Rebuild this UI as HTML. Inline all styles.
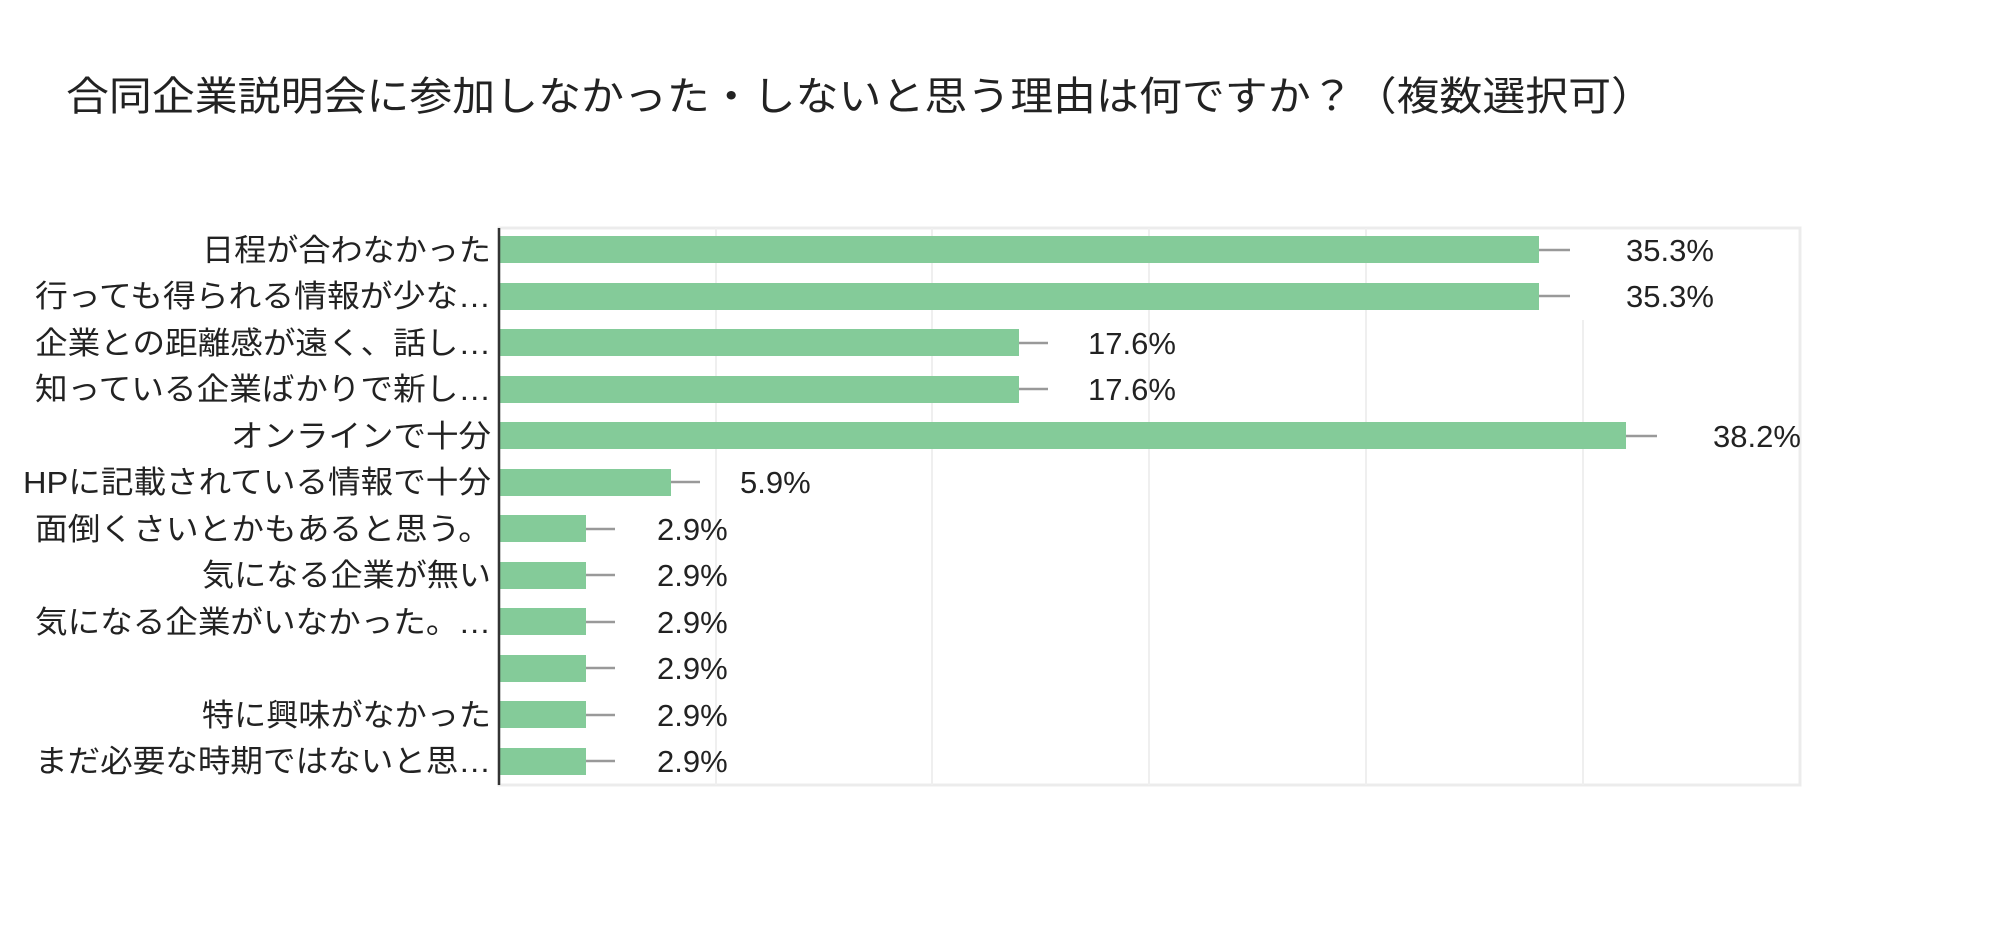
<!DOCTYPE html>
<html><head><meta charset="utf-8"><style>
html,body{margin:0;padding:0;background:#fff;}
svg{display:block;}
text{font-family:"Liberation Sans","Noto Sans CJK JP",sans-serif;fill:#222;}
</style></head><body>
<svg width="2000" height="947" viewBox="0 0 2000 947" xmlns="http://www.w3.org/2000/svg">
<text x="66" y="110" font-size="40" textLength="1588" lengthAdjust="spacingAndGlyphs">合同企業説明会に参加しなかった・しないと思う理由は何ですか？（複数選択可）</text>
<rect x="499" y="228" width="1301" height="557" fill="none" stroke="#ececec" stroke-width="3"/>
<g stroke="#efefef" stroke-width="2">
<line x1="716" y1="228" x2="716" y2="785"/>
<line x1="932" y1="228" x2="932" y2="785"/>
<line x1="1149" y1="228" x2="1149" y2="785"/>
<line x1="1366" y1="228" x2="1366" y2="785"/>
<line x1="1583" y1="320" x2="1583" y2="785"/>
</g>
<g fill="#84cb99">
<rect x="499" y="236" width="1040" height="27"/>
<rect x="499" y="283" width="1040" height="27"/>
<rect x="499" y="329" width="520" height="27"/>
<rect x="499" y="376" width="520" height="27"/>
<rect x="499" y="422" width="1127" height="27"/>
<rect x="499" y="469" width="172" height="27"/>
<rect x="499" y="515" width="87" height="27"/>
<rect x="499" y="562" width="87" height="27"/>
<rect x="499" y="608" width="87" height="27"/>
<rect x="499" y="655" width="87" height="27"/>
<rect x="499" y="701" width="87" height="27"/>
<rect x="499" y="748" width="87" height="27"/>
</g>
<g stroke="#999" stroke-width="2.5">
<line x1="1539" y1="250" x2="1570" y2="250"/>
<line x1="1539" y1="296" x2="1570" y2="296"/>
<line x1="1019" y1="343" x2="1048" y2="343"/>
<line x1="1019" y1="389" x2="1048" y2="389"/>
<line x1="1626" y1="436" x2="1657" y2="436"/>
<line x1="671" y1="482" x2="700" y2="482"/>
<line x1="586" y1="529" x2="615" y2="529"/>
<line x1="586" y1="575" x2="615" y2="575"/>
<line x1="586" y1="622" x2="615" y2="622"/>
<line x1="586" y1="668" x2="615" y2="668"/>
<line x1="586" y1="715" x2="615" y2="715"/>
<line x1="586" y1="761" x2="615" y2="761"/>
</g>
<line x1="499" y1="228" x2="499" y2="785" stroke="#333" stroke-width="2.5"/>
<g font-size="31">
<text x="1626" y="261">35.3%</text>
<text x="1626" y="307">35.3%</text>
<text x="1088" y="354">17.6%</text>
<text x="1088" y="400">17.6%</text>
<text x="1713" y="447">38.2%</text>
<text x="740" y="493">5.9%</text>
<text x="657" y="540">2.9%</text>
<text x="657" y="586">2.9%</text>
<text x="657" y="633">2.9%</text>
<text x="657" y="679">2.9%</text>
<text x="657" y="726">2.9%</text>
<text x="657" y="772">2.9%</text>
</g>
<g font-size="31" text-anchor="end">
<text x="491" y="261" textLength="289" lengthAdjust="spacingAndGlyphs">日程が合わなかった</text>
<text x="491" y="307" textLength="456" lengthAdjust="spacingAndGlyphs">行っても得られる情報が少な…</text>
<text x="491" y="354" textLength="456" lengthAdjust="spacingAndGlyphs">企業との距離感が遠く、話し…</text>
<text x="491" y="400" textLength="456" lengthAdjust="spacingAndGlyphs">知っている企業ばかりで新し…</text>
<text x="491" y="447" textLength="260" lengthAdjust="spacingAndGlyphs">オンラインで十分</text>
<text x="491" y="493" textLength="468" lengthAdjust="spacingAndGlyphs">HPに記載されている情報で十分</text>
<text x="491" y="540" textLength="456" lengthAdjust="spacingAndGlyphs">面倒くさいとかもあると思う。</text>
<text x="491" y="586" textLength="289" lengthAdjust="spacingAndGlyphs">気になる企業が無い</text>
<text x="491" y="633" textLength="456" lengthAdjust="spacingAndGlyphs">気になる企業がいなかった。…</text>
<text x="491" y="726" textLength="289" lengthAdjust="spacingAndGlyphs">特に興味がなかった</text>
<text x="491" y="772" textLength="456" lengthAdjust="spacingAndGlyphs">まだ必要な時期ではないと思…</text>
</g>
</svg>
</body></html>
